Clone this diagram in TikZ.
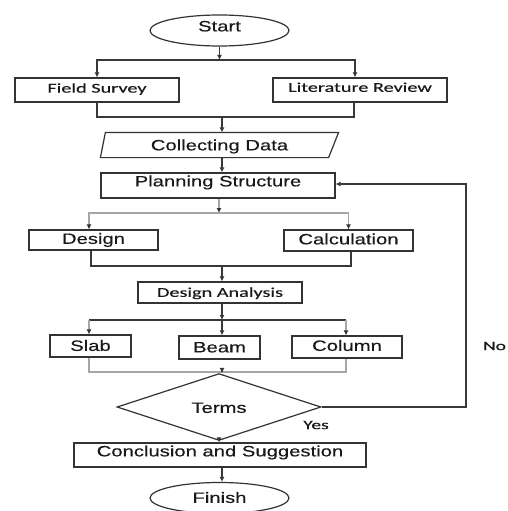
\documentclass[tikz,border=0pt]{standalone}
\usepackage{fontspec}
\setmainfont{Liberation Sans}[FakeStretch=1.35,FakeBold=0.3]
\newfontfamily\calfont{Carlito}[FakeStretch=1.5,FakeBold=0.3]
\usetikzlibrary{shapes.geometric,arrows.meta}
\begin{document}
\begin{tikzpicture}[x=1pt,y=-1pt,
  ln/.style={line width=1.3pt, draw=black!78},
  gl/.style={line width=1.3pt, draw=black!35},
  arr/.style={-{Latex[length=5pt,width=5pt]}},
  garr/.style={-{Latex[length=5pt,width=5pt,color=black!80]}},
  box/.style={draw=black!80, line width=1.2pt, inner sep=0pt, text depth=0pt,
    text=black!90, font=\fontsize{15}{18}\selectfont},
  cbox/.style={box, font=\calfont\fontsize{13.5}{16}\selectfont},
  lbl/.style={inner sep=0pt, text=black!90, font=\calfont\fontsize{13}{16}\selectfont}
]
\path[fill=white] (0,0) rectangle (508,511);
\clip (0,0) rectangle (508,511);
\useasboundingbox (0,0) rectangle (508,511);

% nodes
\node[box, ellipse, minimum width=139pt, minimum height=31pt, text height=1.74pt] (start) at (219.5,30.5) {Start};
\node[cbox, minimum width=164pt, minimum height=24pt, text height=5.3pt] (fs) at (97,90) {Field Survey};
\node[cbox, minimum width=174pt, minimum height=24pt, text height=3.7pt] (lr) at (360,90) {Literature Review};
\node[box, draw=none, minimum width=237pt, minimum height=24pt, text height=10.74pt] (cd) at (219.5,145) {Collecting Data};
\draw[draw=black!80, line width=1.2pt]
  ([xshift=5pt]cd.north west) -- (cd.north east) -- ([xshift=-10pt]cd.south east) -- (cd.south west) -- cycle;
\node[box, minimum width=234pt, minimum height=25pt, text height=1.74pt] (ps) at (218,185.5) {Planning Structure};
\node[box, minimum width=129pt, minimum height=20pt, text height=7.74pt] (design) at (93.5,240) {Design};
\node[box, minimum width=129pt, minimum height=21pt, text height=7.74pt] (calc) at (348.5,240.5) {Calculation};
\node[cbox, minimum width=164pt, minimum height=21pt, text height=8.7pt] (da) at (220,292.5) {Design Analysis};
\node[box, minimum width=81pt, minimum height=22pt, text height=9.74pt] (slab) at (90.5,346) {Slab};
\node[box, minimum width=81pt, minimum height=23pt, text height=9.74pt] (beam) at (219.5,347.5) {Beam};
\node[box, minimum width=110pt, minimum height=22pt, text height=7.74pt] (col) at (347,347) {Column};
\node[box, diamond, minimum width=204pt, minimum height=36pt, text height=11.74pt] (terms) at (219,407) {Terms};
\node[box, minimum width=292pt, minimum height=24pt, text height=2.74pt] (conc) at (220,455) {Conclusion and Suggestion};
\node[box, ellipse, minimum width=139pt, minimum height=31pt, text height=9.74pt] (finish) at (219.5,498) {Finish};
\node[lbl] (yes) at (316,425) {Yes};
\node[lbl] (no) at (494.5,346) {No};

% junctions
\coordinate (j1) at (219.5,60);
\coordinate (j2) at (222,117);
\coordinate (j3) at (219,213);
\coordinate (j4) at (222,266);
\coordinate (j5) at (222,320);
\coordinate (j5l) at (89,320);
\coordinate (j5r) at (346,320);
\coordinate (j6) at (222,372);
\coordinate (lp) at (466,407);

% connectors
\draw[ln,arr] (start.south) -- (j1);
\draw[ln,arr] (j1) -| (fs.north);
\draw[ln,arr] (j1) -| ([xshift=-5pt]lr.north);
\draw[ln] (fs.south) |- (j2);
\draw[ln] ([xshift=-6pt]lr.south) |- (j2);
\draw[ln,arr] (j2) -- (j2 |- cd.north);
\draw[ln,arr] (cd.south -| j2) -- (ps.north -| j2);
\draw[gl,garr] (ps.south -| j3) -- (j3);
\draw[gl,garr] (j3) -| ([xshift=-4.5pt]design.north);
\draw[gl,garr] (j3) -| (calc.north);
\draw[ln] ([xshift=-2.5pt]design.south) |- (j4);
\draw[ln] ([xshift=2.5pt]calc.south) |- (j4);
\draw[ln,arr] (j4) -- (j4 |- da.north);
\draw[ln,arr] (da.south -| j5) -- (j5);
\draw[ln] (j5l) -- (j5r);
\draw[gl,garr] (j5l) -- (j5l |- slab.north);
\draw[gl,garr] (j5r) -- (j5r |- col.north);
\draw[ln,arr] (j5) -- (j5 |- beam.north);
\draw[gl] ([xshift=-1.5pt]slab.south) |- (j6);
\draw[gl] ([xshift=-1pt]col.south) |- (j6);
\draw[ln,arr] (j6) -- (j6 |- terms.north);
\draw[gl,garr] (terms.south) -- (conc.north -| terms.south);
\draw[ln,arr] (conc.south -| j6) -- (finish.north -| j6);
\draw[ln,arr] (terms.east) -- (lp) |- ([yshift=1.5pt]ps.east);
\end{tikzpicture}
\end{document}
